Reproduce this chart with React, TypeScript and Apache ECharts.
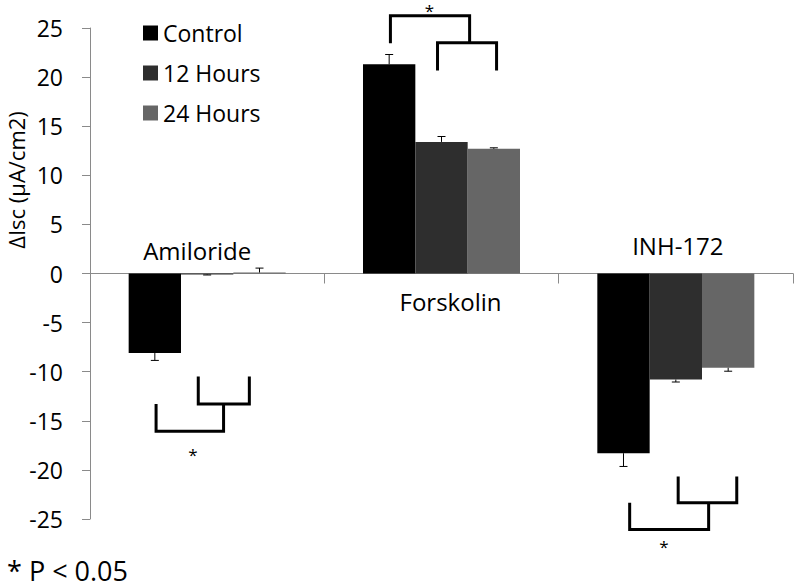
import React, { useEffect, useRef } from "react";
import * as echarts from "echarts";

const categories = ["Amiloride", "Forskolin", "INH-172"];
const seriesNames = ["Control", "12 Hours", "24 Hours"];
const controlValues = [-8.1, 21.3, -18.3];
const hours12Values = [-0.1, 13.4, -10.8];
const hours24Values = [0.1, 12.7, -9.6];
const controlErrors = [0.75, 1.0, 1.35];
const hours12Errors = [0.05, 0.55, 0.25];
const hours24Errors = [0.45, 0.1, 0.35];
const yTicks = { min: -25, max: 25, interval: 5 };
// significance brackets: [category, x1 (band fraction), x2, left leg start, horizontal y, right leg end]
const brackets = [
  [0, -0.038, 0.18, -10.5, -13.3, -10.5],
  [0, -0.218, 0.07, -13.3, -16.06, -13.3],
  [1, -0.218, 0.12, 23.45, 26.24, 23.5],
  [1, -0.017, 0.235, 20.67, 23.5, 20.67],
  [2, 0.01, 0.26, -20.67, -23.35, -20.67],
  [2, -0.197, 0.14, -23.35, -26.07, -23.35],
];
// significance stars: [category, x (band fraction), y]
const stars = [
  [0, -0.061, -18.1],
  [1, -0.051, 27.1],
  [2, -0.051, -27.5],
];
const footnote = "* P < 0.05";
const yTitle = "ΔIsc (μA/cm2)";

const colors = ["#000000", "#2e2e2e", "#666666"];
const labelOffsets = [
  [-10, -23],
  [9, 28],
  [2, -28],
];
const FONT = "'Open Sans', sans-serif";
const GAP = 0.33;

export default function App() {
  const ref = useRef<HTMLDivElement>(null);
  useEffect(() => {
    if (!ref.current) return;
    const chart = echarts.init(ref.current, null, { renderer: "svg" });
    const values = [controlValues, hours12Values, hours24Values];
    const errors = [controlErrors, hours12Errors, hours24Errors];

    const errData: number[][] = [];
    values.forEach((vals, s) =>
      vals.forEach((v, c) => errData.push([c, s, v, errors[s][c]]))
    );

    const barSeries = seriesNames.map((name, s) => ({
      name,
      type: "bar",
      data: values[s],
      barGap: "0%",
      barCategoryGap: "33%",
      itemStyle: { color: colors[s] },
      z: 2,
    }));

    chart.setOption({
      animation: false,
      backgroundColor: "#ffffff",
      textStyle: { fontFamily: FONT },
      grid: { left: 90, right: 7, top: 28, bottom: 69, containLabel: false },
      legend: {
        data: seriesNames,
        orient: "vertical",
        left: 138,
        top: 16,
        itemWidth: 15,
        itemHeight: 15,
        itemGap: 16,
        icon: "rect",
        textStyle: { fontSize: 23, lineHeight: 24, color: "#000", fontFamily: FONT },
      },
      xAxis: {
        type: "category",
        data: categories,
        axisLine: { onZero: true, lineStyle: { color: "#8a8a8a", width: 1 } },
        axisTick: { show: true, length: 10, lineStyle: { color: "#8a8a8a" } },
        axisLabel: { show: false },
        splitLine: { show: false },
      },
      yAxis: {
        type: "value",
        min: yTicks.min,
        max: yTicks.max,
        interval: yTicks.interval,
        axisLine: { show: true, lineStyle: { color: "#8a8a8a", width: 1 } },
        axisTick: { show: true, length: 8, lineStyle: { color: "#8a8a8a" } },
        axisLabel: { fontSize: 23, color: "#000", margin: 27, fontFamily: FONT },
        splitLine: { show: false },
      },
      graphic: [
        {
          type: "text",
          x: 16,
          y: 180,
          rotation: Math.PI / 2,
          style: {
            text: yTitle,
            fontSize: 22,
            fontFamily: FONT,
            fill: "#000",
            align: "center",
            verticalAlign: "middle",
          },
        },
        {
          type: "text",
          left: 7,
          top: 557,
          style: { text: footnote, fontSize: 27, fontFamily: FONT, fill: "#000" },
        },
      ],
      series: [
        ...barSeries,
        {
          type: "custom",
          data: errData,
          encode: { x: 0, y: 2 },
          z: 5,
          silent: true,
          clip: false,
          renderItem: (params: any, api: any) => {
            const c = api.value(0);
            const s = api.value(1);
            const v = api.value(2);
            const e = api.value(3);
            const band = api.size([1, 0])[0];
            const w = (band * (1 - GAP)) / 3;
            const cx = api.coord([c, 0])[0] + (s - 1) * w;
            const y0 = api.coord([c, v])[1];
            const sign = v >= 0 ? 1 : -1;
            const y1 = api.coord([c, v + sign * e])[1];
            const style = { stroke: "#000", lineWidth: 1 };
            return {
              type: "group",
              children: [
                { type: "line", shape: { x1: cx, y1: y0, x2: cx, y2: y1 }, style },
                { type: "line", shape: { x1: cx - 4, y1: y1, x2: cx + 4, y2: y1 }, style },
              ],
            };
          },
        },
        {
          type: "custom",
          data: brackets,
          encode: { x: 0, y: 4 },
          z: 6,
          silent: true,
          clip: false,
          renderItem: (params: any, api: any) => {
            const c = api.value(0);
            const band = api.size([1, 0])[0];
            const cx = api.coord([c, 0])[0];
            const xa = cx + api.value(1) * band;
            const xb = cx + api.value(2) * band;
            const ya = api.coord([c, api.value(3)])[1];
            const yh = api.coord([c, api.value(4)])[1];
            const yb = api.coord([c, api.value(5)])[1];
            return {
              type: "polyline",
              shape: { points: [[xa, ya], [xa, yh], [xb, yh], [xb, yb]] },
              style: { stroke: "#000", lineWidth: 3, fill: "none", lineJoin: "miter" },
            };
          },
        },
        {
          type: "custom",
          data: stars,
          encode: { x: 0, y: 2 },
          z: 6,
          silent: true,
          clip: false,
          renderItem: (params: any, api: any) => {
            const c = api.value(0);
            const band = api.size([1, 0])[0];
            const x = api.coord([c, 0])[0] + api.value(1) * band;
            const y = api.coord([c, api.value(2)])[1];
            return {
              type: "text",
              x,
              y: y + 3,
              style: {
                text: "*",
                fontSize: 17,
                fontFamily: FONT,
                fill: "#000",
                align: "center",
                verticalAlign: "middle",
              },
            };
          },
        },
        {
          type: "custom",
          data: categories.map((_, i) => [i, 0]),
          encode: { x: 0, y: 1 },
          z: 6,
          silent: true,
          clip: false,
          renderItem: (params: any, api: any) => {
            const c = api.value(0);
            const p = api.coord([c, 0]);
            const off = labelOffsets[c];
            return {
              type: "text",
              x: p[0] + off[0],
              y: p[1] + off[1],
              style: {
                text: categories[c],
                fontSize: 24,
                fontFamily: FONT,
                fill: "#000",
                align: "center",
                verticalAlign: "middle",
              },
            };
          },
        },
      ],
    });
    return () => chart.dispose();
  }, []);
  return (
    <div
      ref={ref}
      style={{ position: "fixed", left: 0, top: 0, width: 800, height: 588, background: "#fff" }}
    />
  );
}
